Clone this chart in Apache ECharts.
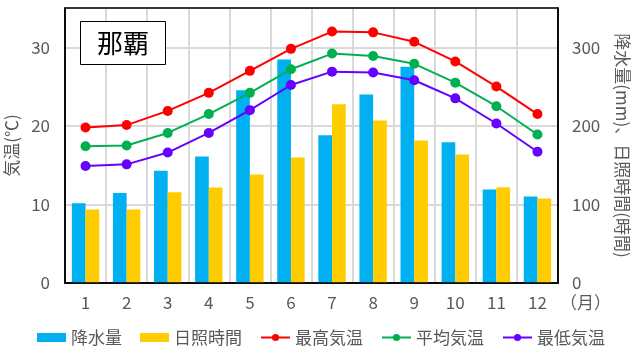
<!DOCTYPE html>
<html><head><meta charset="utf-8">
<script src="https://cdn.jsdelivr.net/npm/echarts@6/dist/echarts.min.js"></script>
<style>html,body{margin:0;padding:0;background:#fff}#c{width:642px;height:355px}</style>
</head><body><div id="c"></div>
<script>
const months = ['1','2','3','4','5','6','7','8','9','10','11','12'];
const precip = [101.6, 114.5, 142.8, 161.0, 245.3, 284.4, 188.1, 240.0, 275.2, 179.2, 119.1, 110.0];
const sunshine = [93.4, 93.4, 115.5, 121.4, 138.0, 159.6, 227.5, 206.7, 181.3, 163.4, 121.8, 107.4];
const tMax = [19.8, 20.1, 21.9, 24.2, 27.0, 29.8, 32.0, 31.9, 30.7, 28.2, 25.0, 21.5];
const tAvg = [17.4, 17.5, 19.1, 21.5, 24.2, 27.2, 29.2, 28.9, 27.9, 25.5, 22.5, 18.9];
const tMin = [14.9, 15.1, 16.6, 19.1, 22.0, 25.2, 26.9, 26.8, 25.8, 23.5, 20.3, 16.7];
const leftTicks = [0, 10, 20, 30];
const rightTicks = [0, 100, 200, 300];
const FONT = '"Noto Sans CJK JP", sans-serif';
const chart = echarts.init(document.getElementById('c'));
const lineSeries = (name, data, color) => ({
  name, type: 'line', yAxisIndex: 0, data,
  symbol: 'circle', symbolSize: 10,
  lineStyle: { color, width: 2 }, itemStyle: { color },
  z: 5
});
chart.setOption({
  animation: false,
  textStyle: { fontFamily: FONT },
  title: {
    text: '那覇', left: 80, top: 21,
    padding: [9, 17, 9, 17],
    borderColor: '#000', borderWidth: 1, backgroundColor: '#fff',
    textStyle: { fontFamily: FONT, fontSize: 26, fontWeight: 'normal', color: '#000' }
  },
  grid: { left: 65, right: 84, top: 8, bottom: 72, show: true, borderColor: '#000', borderWidth: 1.5, z: 3,
    containLabel: false, outerBoundsMode: 'none' },
  legend: {
    bottom: 4, left: 'center', itemGap: 18, itemWidth: 29, itemHeight: 9,
    textStyle: { fontFamily: FONT, fontSize: 17, color: '#595959' },
    data: [
      { name: '降水量', icon: 'rect' },
      { name: '日照時間', icon: 'rect' },
      '最高気温', '平均気温', '最低気温'
    ]
  },
  xAxis: {
    type: 'category', data: months,
    name: '（月）', nameLocation: 'end', nameGap: 2,
    nameTextStyle: { fontFamily: FONT, fontSize: 17, color: '#595959', verticalAlign: 'top', padding: [11, 0, 0, 0] },
    axisLine: { lineStyle: { color: '#000', width: 1.5 } },
    axisTick: { show: false },
    axisLabel: { fontFamily: FONT, fontSize: 17, color: '#595959', margin: 11 },
    splitLine: { show: true, lineStyle: { color: '#d9d9d9', width: 2 } }
  },
  yAxis: [
    {
      type: 'value', min: 0, max: 35, interval: 10,
      name: '気温(℃)', nameLocation: 'middle', nameGap: 44,
      nameTextStyle: { fontFamily: FONT, fontSize: 17, color: '#595959' },
      axisLine: { show: true, lineStyle: { color: '#000', width: 1.5 } },
      axisTick: { show: false },
      axisLabel: { fontFamily: FONT, fontSize: 17, color: '#595959', margin: 15,
        formatter: v => leftTicks.includes(v) ? String(v) : '' },
      splitLine: { show: true, lineStyle: { color: '#d9d9d9', width: 2 } }
    },
    {
      type: 'value', min: 0, max: 350, interval: 100,
      name: '降水量(mm)、日照時間(時間)', nameLocation: 'middle', nameGap: 56, nameRotate: -90,
      nameTextStyle: { fontFamily: FONT, fontSize: 17, color: '#595959' },
      axisLine: { show: true, lineStyle: { color: '#000', width: 1.5 } },
      axisTick: { show: false },
      axisLabel: { fontFamily: FONT, fontSize: 17, color: '#595959', margin: 14,
        formatter: v => rightTicks.includes(v) ? String(v) : '' },
      splitLine: { show: false }
    }
  ],
  series: [
    { name: '降水量', type: 'bar', yAxisIndex: 1, data: precip, barWidth: 13.7, barGap: '0%',
      itemStyle: { color: '#00B0F0' }, z: 2 },
    { name: '日照時間', type: 'bar', yAxisIndex: 1, data: sunshine, barWidth: 13.7, barGap: '0%',
      itemStyle: { color: '#FFCC00' }, z: 2 },
    lineSeries('最高気温', tMax, '#FF0000'),
    lineSeries('平均気温', tAvg, '#00B050'),
    lineSeries('最低気温', tMin, '#6600FF')
  ]
});
</script></body></html>
